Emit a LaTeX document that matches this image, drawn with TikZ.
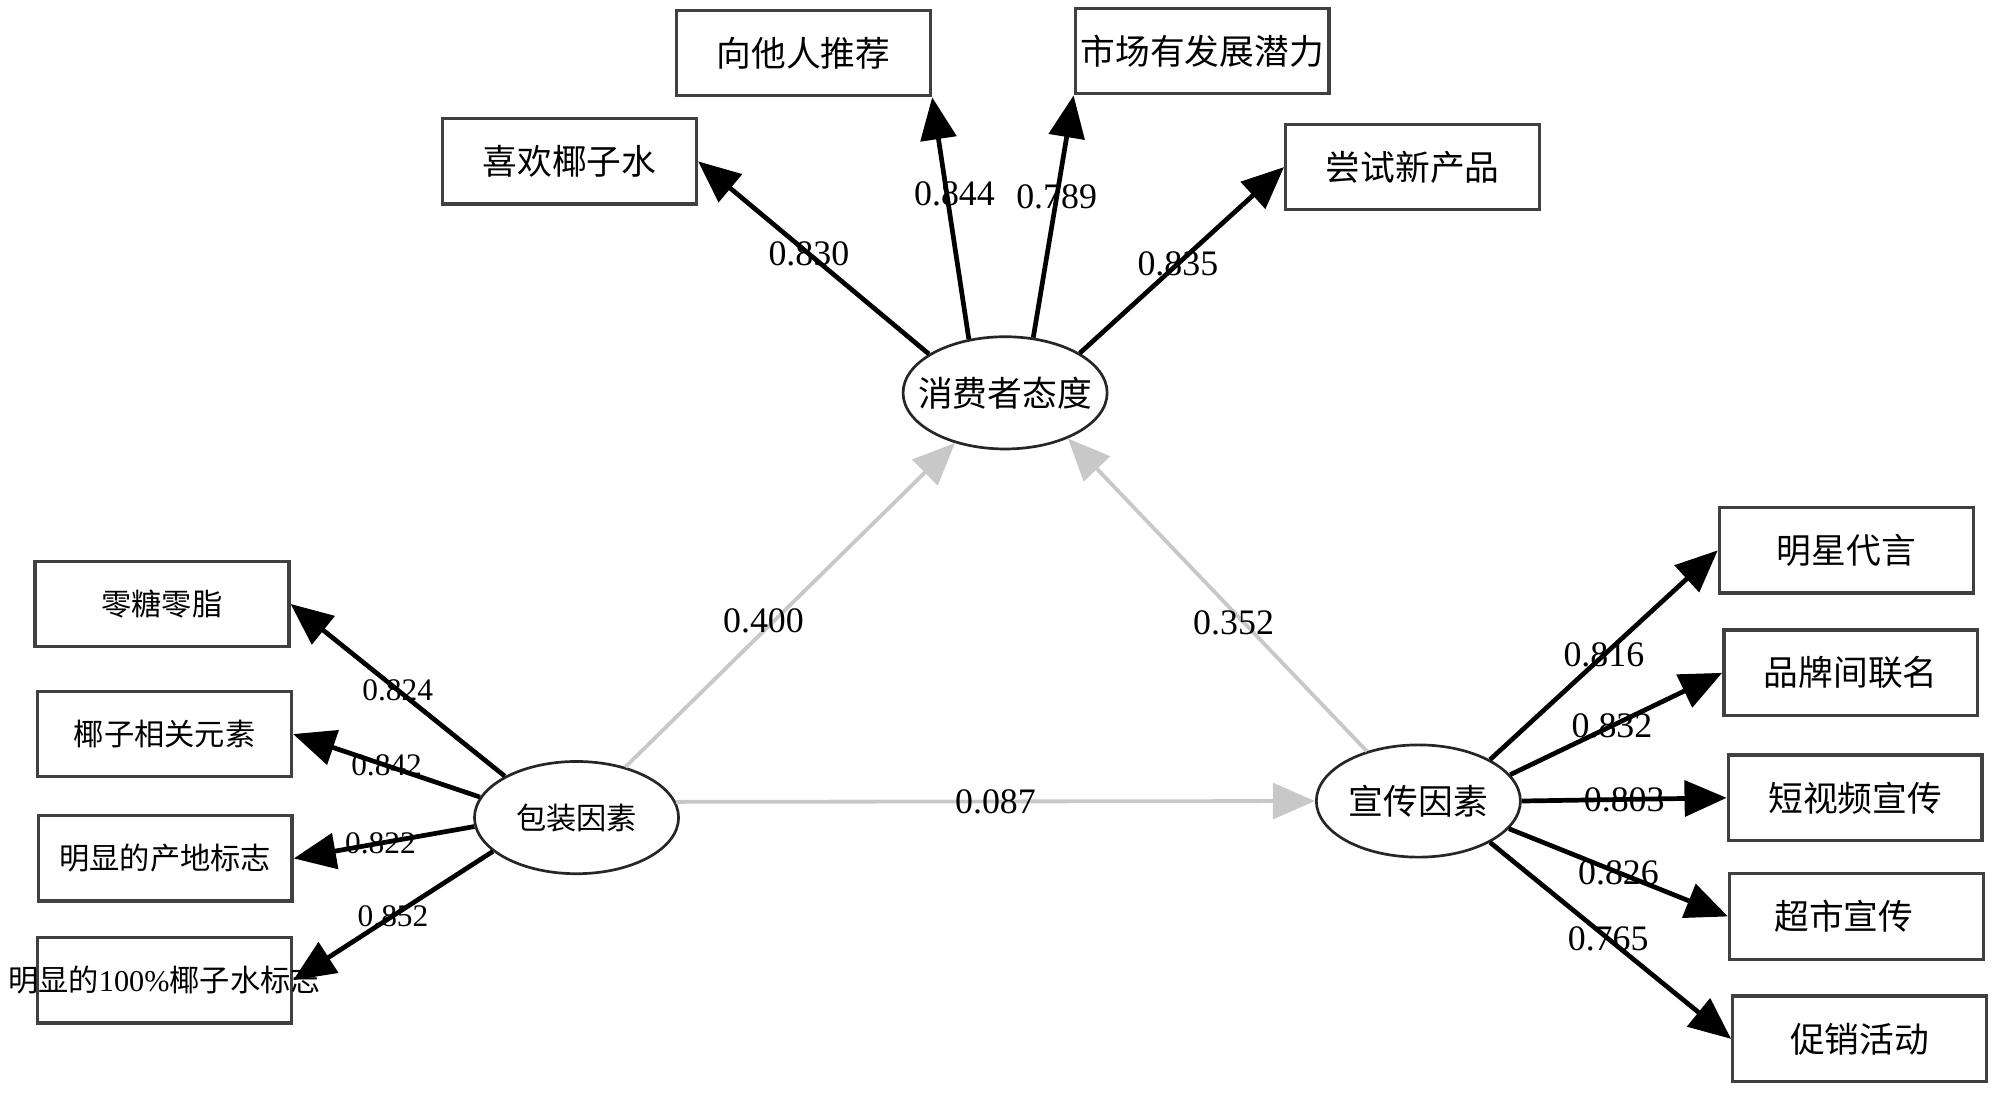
\documentclass[tikz,border=0pt]{standalone}
\usepackage{fontspec}
\setmainfont{Liberation Serif}
\newfontfamily\cjk{Noto Sans CJK SC}
\usetikzlibrary{shapes.geometric,arrows.meta}
\definecolor{boxline}{RGB}{64,64,64}
\definecolor{effgray}{RGB}{200,200,200}
\newcommand\bigcn{\cjk\fontsize{15.5}{18}\selectfont}
\newcommand\smallcn{\cjk\fontsize{13.5}{16}\selectfont}
\tikzset{
	item/.style={draw=boxline,line width=1.5pt,minimum width=39.8mm,minimum height=13.4mm,inner sep=0pt,font=\bigcn},
	smallitem/.style={item,font=\smallcn},
	latent/.style={ellipse,draw=black!85,line width=1.2pt,minimum width=32mm,minimum height=17.6mm,inner xsep=-2.4mm,inner ysep=0pt,font=\bigcn},
	coef/.style={inner sep=0pt,font=\fontsize{16}{18}\selectfont},
	smallcoef/.style={inner sep=0pt,font=\fontsize{14}{16}\selectfont},
	>={Triangle[length=6.6mm,width=5.6mm]}
}
\begin{document}
\begin{tikzpicture}[x=0.2mm,y=-0.2mm]
		\useasboundingbox (0,0) rectangle (1568,859.3);
		\node[latent] (att) at (788,308) {消费者态度};
		\node[latent,font=\smallcn] (pack) at (452,641) {包装因素};
		\node[latent] (prom) at (1112,628) {宣传因素};

		\node[item] (recom) at (630,41.5) {向他人推荐};
		\node[item] (potential) at (942.5,40) {市场有发展潜力};
		\node[item] (like) at (446.5,126.5) {喜欢椰子水};
		\node[item] (trynew) at (1107.5,131) {尝试新产品};

		\node[smallitem] (zerosugar) at (127,473.5) {零糖零脂};
		\node[smallitem] (cocoelem) at (129,575.5) {椰子相关元素};
		\node[smallitem] (origin) at (129.5,673) {明显的产地标志};
		\node[smallitem,font=\fontsize{13.5}{16}\selectfont] (purelabel) at (129,768.5)
			{\makebox[30mm]{{\cjk 明显的}100\%{\cjk 椰子水标志}}};

		\node[item] (star) at (1447.5,431.5) {明星代言};
		\node[item] (cobrand) at (1451,527.5) {品牌间联名};
		\node[item] (video) at (1454.5,625.5) {短视频宣传};
		\node[item] (market) at (1455.5,718.5) {\hspace*{-4mm}超市宣传};
		\node[item] (sale) at (1458,814.5) {促销活动};

		% structural paths
		\begin{scope}[->,draw=effgray,line width=1.7pt]
		    \draw (pack.46) -- (att.225) node[coef,pos=0.45,xshift=-1.6mm]{0.400};
		    \draw (prom.136) -- (att.-36) node[coef,pos=0.45,xshift=0.2mm,yshift=-2mm]{0.352};
		    \draw (pack.9) -- (prom.west) node[coef,pos=0.5]{0.087};
		\end{scope}

		% loadings
		\begin{scope}[->,line width=2.1pt]
		    \draw (att.153) -- (like.east) node[coef,pos=0.52]{0.830};
		    \draw (att.124) -- (recom.south east) node[coef,pos=0.6,xshift=1.2mm]{0.844};
		    \draw (att.63) -- (potential.south west) node[coef,pos=0.58]{0.789};
		    \draw (att.28) -- (trynew.west) node[coef,pos=0.48]{0.835};

		    \draw (pack.150) -- (zerosugar.east) node[smallcoef,pos=0.5]{0.824};
		    \draw (pack.168) -- (cocoelem.east) node[smallcoef,pos=0.5]{0.842};
		    \draw (pack.185) -- (origin.east) node[smallcoef,pos=0.52]{0.822};
		    \draw (pack.202) -- (purelabel.east) node[smallcoef,pos=0.5]{0.852};

		    \draw (prom.30) -- (star.west) node[coef,pos=0.5]{0.816};
		    \draw (prom.16) -- (cobrand.west) node[coef,pos=0.48]{0.832};
		    \draw (prom.0) -- (video.west) node[coef,pos=0.5]{0.803};
		    \draw (prom.-17) -- (market.west) node[coef,pos=0.5]{0.826};
		    \draw (prom.-30) -- (sale.west) node[coef,pos=0.49]{0.765};
		\end{scope}
	    \end{tikzpicture}
\end{document}
